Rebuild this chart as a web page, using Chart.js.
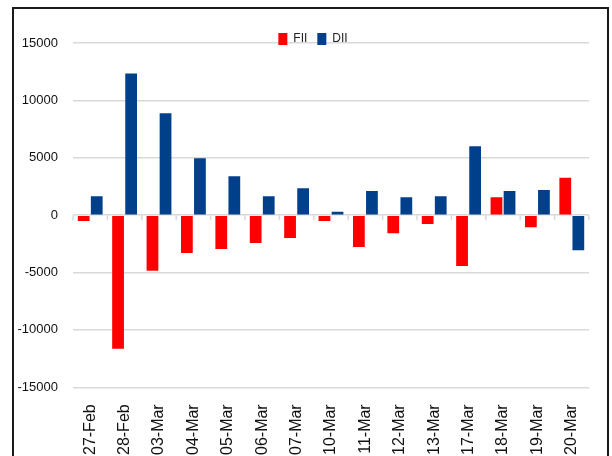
<!DOCTYPE html>
<html>
<head>
<meta charset="utf-8">
<script src="https://cdn.jsdelivr.net/npm/chart.js@4"></script>
<style>
  html, body { margin: 0; padding: 0; background: #fff; overflow: hidden; }
  #frame {
    position: absolute; left: 12px; top: 7px;
    width: 597px; height: 472px;
    border: 2px solid #1a1a1a; box-sizing: border-box;
  }
  #wrap { position: relative; width: 593px; height: 468px; }
</style>
</head>
<body>
<div id="frame"><div id="wrap"><canvas id="flowChart"></canvas></div></div>
<script>
// FII / DII net flows (Rs crore)
const dates = ['27-Feb', '28-Feb', '03-Mar', '04-Mar', '05-Mar', '06-Mar', '07-Mar', '10-Mar',
               '11-Mar', '12-Mar', '13-Mar', '17-Mar', '18-Mar', '19-Mar', '20-Mar'];
const fiiFlows = [-500, -11650, -4850, -3300, -2950, -2430, -2000, -500, -2780, -1570, -780, -4430, 1550, -1050, 3250];
const diiFlows = [1650, 12350, 8870, 4950, 3400, 1650, 2350, 300, 2100, 1550, 1650, 6000, 2100, 2200, -3050];
const yTicks = [-15000, -10000, -5000, 0, 5000, 10000, 15000];

// little tick marks on the zero line between categories (Excel style)
const zeroTicks = {
    id: 'zeroTicks',
    afterDatasetsDraw(chart) {
        const x = chart.scales.x, y = chart.scales.y;
        const y0 = y.getPixelForValue(0);
        const ctx = chart.ctx;
        ctx.save();
        ctx.strokeStyle = '#d9d9d9';
        ctx.lineWidth = 1.5;
        ctx.beginPath();
        for (let i = 0; i <= dates.length; i++) {
            let px;
            if (i === 0) px = chart.chartArea.left;
            else if (i === dates.length) px = chart.chartArea.right;
            else px = (x.getPixelForValue(i - 1) + x.getPixelForValue(i)) / 2;
            ctx.moveTo(px, y0);
            ctx.lineTo(px, y0 + 5);
        }
        ctx.stroke();
        ctx.restore();
    }
};

// push the legend down (and a bit right) so it sits on the top gridline like the original
const legendShift = {
    id: 'legendShift',
    afterLayout(chart) {
        if (chart.legend) {
            chart.legend.top += 12;
            chart.legend.bottom += 12;
            chart.legend.left += 10;
            chart.legend.right += 10;
        }
    }
};

document.addEventListener('DOMContentLoaded', function () {
    new Chart(document.getElementById('flowChart').getContext('2d'), {
        type: 'bar',
        data: {
            labels: dates,
            datasets: [{
                label: 'FII',
                data: fiiFlows,
                backgroundColor: '#ff0000',
                barPercentage: 0.9,
                categoryPercentage: 0.76,
            }, {
                label: 'DII',
                data: diiFlows,
                backgroundColor: '#00408a',
                barPercentage: 0.9,
                categoryPercentage: 0.76,
            }]
        },
        options: {
            responsive: true,
            maintainAspectRatio: false,
            animation: false,
            layout: { padding: { left: 3, right: 18, top: 2, bottom: 13 } },
            plugins: {
                legend: {
                    position: 'top',
                    labels: {
                        boxWidth: 9,
                        boxHeight: 12,
                        padding: 10,
                        color: '#222',
                        font: { family: 'Liberation Sans, Arial', size: 12 }
                    }
                },
                tooltip: { enabled: false }
            },
            scales: {
                x: {
                    grid: { display: false },
                    border: { display: false },
                    ticks: {
                        minRotation: 90,
                        maxRotation: 90,
                        padding: 9,
                        color: '#111',
                        font: { family: 'Liberation Sans, Arial', size: 16 }
                    }
                },
                y: {
                    min: yTicks[0],
                    max: yTicks[yTicks.length - 1],
                    afterBuildTicks(axis) { axis.ticks = yTicks.map(v => ({ value: v })); },
                    afterFit(axis) { axis.width = 56; },
                    grid: { color: '#d9d9d9', lineWidth: 1.5, drawTicks: false },
                    border: { display: false },
                    ticks: {
                        padding: 15,
                        color: '#111',
                        font: { family: 'Liberation Sans, Arial', size: 13 },
                        callback: v => String(v)
                    }
                }
            }
        },
        plugins: [zeroTicks, legendShift]
    });
});
</script>
</body>
</html>
